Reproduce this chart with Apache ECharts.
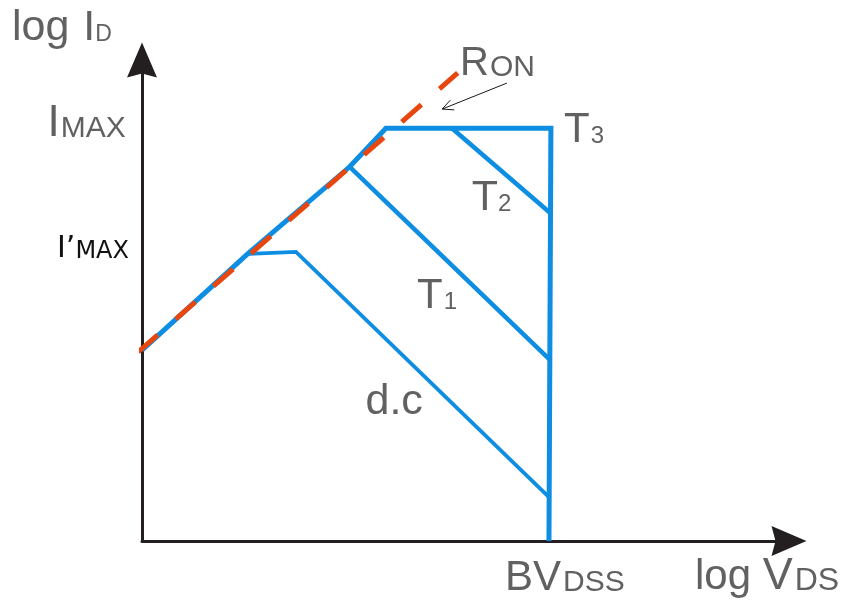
<!DOCTYPE html>
<html>
<head>
<meta charset="utf-8">
<script src="https://cdn.jsdelivr.net/npm/echarts@6/dist/echarts.min.js"></script>
<style>
  html, body { margin: 0; padding: 0; background: #ffffff; }
  #chart { width: 845px; height: 600px; }
</style>
</head>
<body>
<div id="chart"></div>
<script>
// MOSFET safe operating area sketch: log I_D against log V_DS,
// both axes in relative log units (0 to 100).
const soaEnvelope = [[0, 39.7], [16.5, 59.9], [32.1, 77.8], [37.7, 85.8], [63.2, 85.8], [62.9, 0]]; // T3 pulse + BVDSS wall
const t2Limit = [[47.9, 85.8], [63.1, 68.2]];
const t1Limit = [[32.1, 77.8], [63.1, 37.6]];
const dcLimit = [[16.5, 59.7], [23.8, 60.1], [62.9, 9.1]];
const ronLimit = [[-0.6, 39.3], [48.8, 97.3]];
const ronPointer = [[56.4, 95.2], [46.4, 89.8]];

const BLUE = '#0d8ee3';
const RED = '#e7460f';
const INK = '#231f20';
const GREY = '#616161';
const SANS = '"Liberation Sans", Arial, Helvetica, sans-serif';
const ARROW = 'path://M15,0 L30,35 L15,31 L0,35 Z';

const chart = echarts.init(document.getElementById('chart'), null, { renderer: 'canvas' });

function axis() {
  return {
    type: 'value', min: 0, max: 100,
    splitLine: { show: false }, axisTick: { show: false }, axisLabel: { show: false },
    axisLine: {
      show: true, onZero: false,
      symbol: ['none', ARROW], symbolSize: [30, 35],
      lineStyle: { color: INK, width: 3 }
    }
  };
}

function limitSeries(name, data, width, z) {
  return {
    name, type: 'line', data, z,
    showSymbol: false, symbol: 'none', silent: true, clip: false,
    lineStyle: { color: BLUE, width, join: 'miter', cap: 'butt' }
  };
}

chart.setOption({
  animation: false,
  backgroundColor: '#ffffff',
  grid: { left: 142, right: 56, top: 60, bottom: 59 },
  xAxis: axis(),
  yAxis: axis(),
  series: [
    limitSeries('T3', soaEnvelope, 5, 3),
    limitSeries('T2', t2Limit, 4.5, 3),
    limitSeries('T1', t1Limit, 4.5, 3),
    limitSeries('d.c', dcLimit, 3.8, 3),
    {
      name: 'RON', type: 'line', data: ronLimit, z: 4,
      showSymbol: false, symbol: 'none', silent: true, clip: false,
      lineStyle: { color: RED, width: 5, type: [26, 24], cap: 'butt' }
    }
  ]
});

// Text with mixed sizes sharing one baseline; parts: [text, fontSize, gapBefore]
function label(x, baseline, parts, color, family) {
  const big = Math.max.apply(null, parts.map(p => p[1]));
  const rich = {};
  let text = '';
  parts.forEach((p, i) => {
    rich['r' + i] = {
      fontSize: p[1], fontFamily: family || SANS, fill: color,
      padding: [0.693 * (big - p[1]), 0, 0, p[2] || 0]
    };
    text += '{r' + i + '|' + p[0] + '}';
  });
  return {
    type: 'text', x, y: baseline - 0.3465 * big, silent: true, z: 10,
    style: { text, rich, fill: color, align: 'left', verticalAlign: 'middle' }
  };
}

const px = p => chart.convertToPixel({ gridIndex: 0 }, p);

// pointer from the RON caption to the dashed line, with an open arrow head
const tail = px(ronPointer[0]);
const tip = px(ronPointer[1]);
const ang = Math.atan2(tip[1] - tail[1], tip[0] - tail[0]);
const headLen = 12, headSpread = 0.45;
const wing = s => [tip[0] - headLen * Math.cos(ang + s), tip[1] - headLen * Math.sin(ang + s)];

chart.setOption({
  graphic: [
    { type: 'line', silent: true, z: 10, shape: { x1: tail[0], y1: tail[1], x2: tip[0], y2: tip[1] },
      style: { stroke: '#1a1a1a', lineWidth: 1 } },
    { type: 'polyline', silent: true, z: 10, shape: { points: [wing(headSpread), tip, wing(-headSpread)] },
      style: { stroke: '#1a1a1a', lineWidth: 1, fill: null } },

    label(12, 43, [['log ', 43], ['I', 43, 2], ['D', 23]], GREY),
    label(47.6, 139, [['I', 44], ['MAX', 30, 1]], GREY),
    label(57, 260, [['I’', 30], ['MAX', 24]], '#111111', '"DejaVu Sans", Verdana, sans-serif'),
    label(460, 78, [['R', 40], ['ON', 30, 1]], GREY),
    label(564, 145, [['T', 42], ['3', 24, 1]], GREY),
    label(471.7, 213, [['T', 43], ['2', 24]], GREY),
    label(417, 311, [['T', 42], ['1', 24, 1]], GREY),
    label(365.5, 417, [['d.c', 43]], GREY),
    label(505, 593, [['BV', 42], ['DSS', 30, 2]], GREY),
    label(695, 592, [['log ', 42], ['V', 45], ['DS', 32, 2]], GREY)
  ]
});
</script>
</body>
</html>
